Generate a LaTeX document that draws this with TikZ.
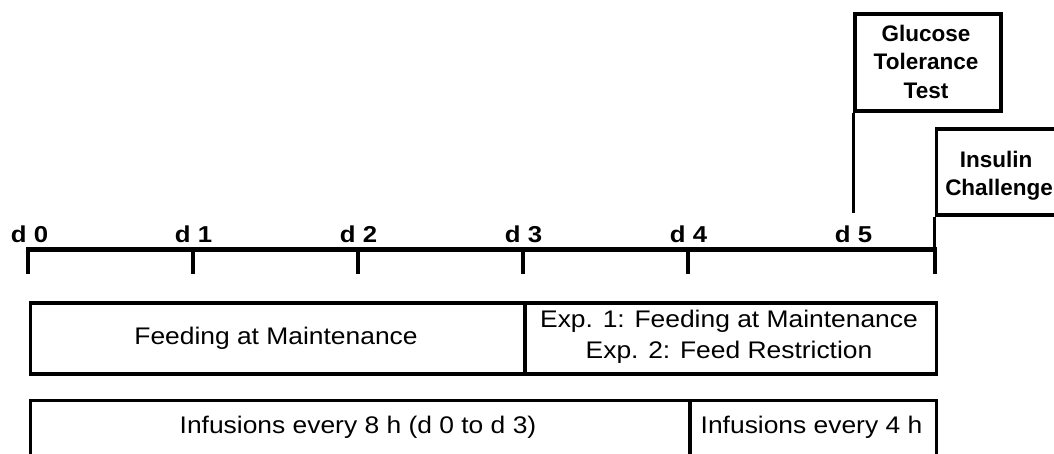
\documentclass[tikz,border=0pt]{standalone}
\usepackage{fontspec}
\setmainfont{Liberation Sans}
\newcommand{\wide}[1]{\scalebox{1.1}[1]{#1}}
\newcommand{\daywide}[1]{\scalebox{1.12}[1]{#1}}
\begin{document}
\begin{tikzpicture}[x=1pt,y=-1pt,
  box/.style={draw,line width=3.5pt,rectangle,inner sep=0pt,anchor=north west},
  axisline/.style={line width=5pt},
  tickline/.style={line width=4pt},
  conn/.style={line width=3.5pt},
  txt/.style={inner sep=0pt,anchor=base,font=\fontsize{24}{26}\selectfont},
  daylbl/.style={inner sep=0pt,anchor=base,font=\fontsize{23}{25}\selectfont\bfseries},
  toptxt/.style={inner sep=0pt,anchor=base,font=\fontsize{22.5}{24}\selectfont\bfseries}]
\clip (0,0) rectangle (1054,453);
% axis coordinates
\coordinate (t0) at (28,249.5);
\coordinate (t1) at (193,249.5);
\coordinate (t2) at (358,249.5);
\coordinate (t3) at (523,249.5);
\coordinate (t4) at (688,249.5);
\coordinate (t5) at (853,249.5);
\coordinate (tend) at (934.5,249.5);
\draw[axisline] ([xshift=-2pt]t0) -- ([xshift=2pt]tend);
\foreach \t in {t0,t1,t2,t3,t4,tend}
  \draw[tickline] (\t) -- ++(0,24.5);
% day labels
\node[daylbl] (d0) at (29.5,242) {\daywide{d 0}};
\node[daylbl] (d1) at (193.5,242) {\daywide{d 1}};
\node[daylbl] (d2) at (358.5,242) {\daywide{d 2}};
\node[daylbl] (d3) at (523.5,242) {\daywide{d 3}};
\node[daylbl] (d4) at (688.5,242) {\daywide{d 4}};
\node[daylbl] (d5) at (853.5,242) {\daywide{d 5}};
% top boxes
\node[box,minimum width=146pt,minimum height=97pt] (glu) at (853.3,12) {};
\node[toptxt] (glu1) at (926,41) {Glucose};
\node[toptxt] (glu2) at (926,69.5) {Tolerance};
\node[toptxt] (glu3) at (926,98) {Test};
\coordinate (gluend) at (853.3,213);
\draw[conn] (glu.south west) -- (gluend);
\node[box,minimum width=124pt,minimum height=86pt] (ins) at (934.5,127) {};
\node[toptxt] (ins1) at (996,167) {Insulin};
\node[toptxt] (ins2) at (999,195) {Challenge};
\draw[conn] (ins.south west) -- (tend);
% feeding row
\node[box,minimum width=495pt,minimum height=71pt] (feedA) at (28.5,301) {};
\node[box,minimum width=411.5pt,minimum height=71pt] (feedB) at (523,301) {};
\node[txt] (feedAt) at (276,344) {\wide{Feeding at Maintenance}};
\node[txt] (feedB1) at (729,327.5) {\wide{Exp. 1: Feeding at Maintenance}};
\node[txt] (feedB2) at (729,358.5) {\wide{Exp. 2: Feed Restriction}};
% infusion row
\node[box,minimum width=659.5pt,minimum height=90pt] (infA) at (28.5,398.5) {};
\node[box,minimum width=246.5pt,minimum height=90pt] (infB) at (688,398.5) {};
\node[txt] (infAt) at (358,433) {\wide{Infusions every 8 h (d 0 to d 3)}};
\node[txt] (infBt) at (811.5,433) {\wide{Infusions every 4 h}};
\end{tikzpicture}
\end{document}
